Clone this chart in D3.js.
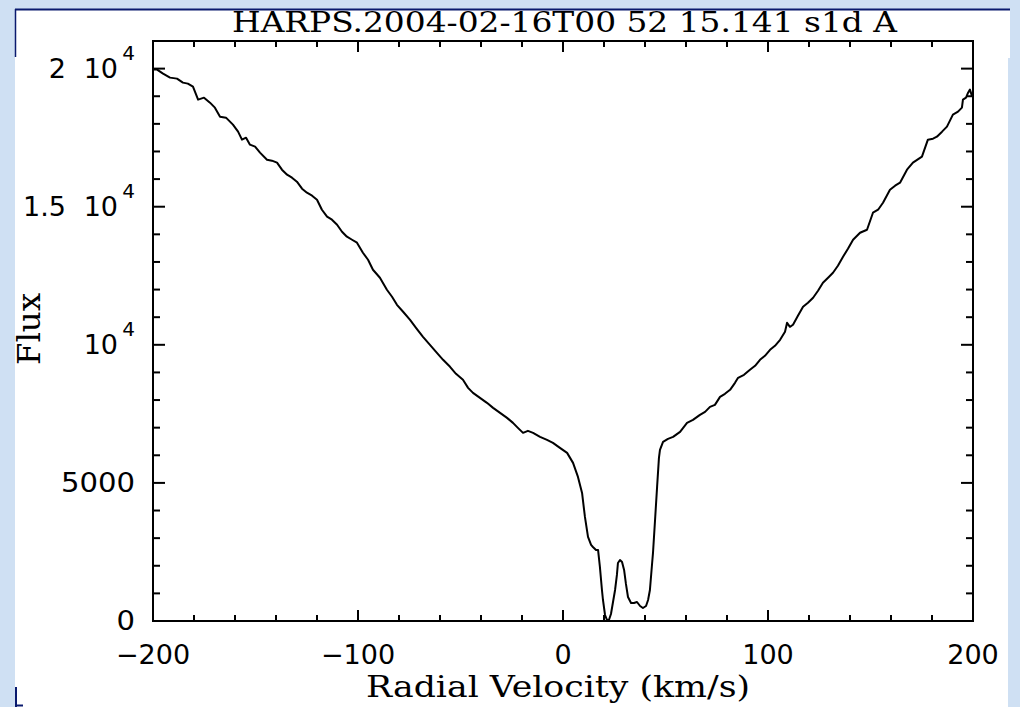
<!DOCTYPE html>
<html>
<head>
<meta charset="utf-8">
<script src="https://cdn.jsdelivr.net/npm/d3@7"></script>
<style>
  html, body { margin: 0; padding: 0; background: #cfe0f3; }
  svg { display: block; }
</style>
</head>
<body>
<svg id="chart" width="1020" height="707"></svg>
<script>
// ---- data ----
const velocity = [-200,-198.0,-195.1,-191.7,-188.3,-185.4,-183.0,-180.5,-178.0,-175.1,-172.2,-169.8,-167.3,-164.4,-161.0,-158.5,-156.6,-154.6,-152.7,-150.2,-147.8,-144.4,-142.0,-139.5,-137.1,-134.6,-132.2,-129.8,-127.3,-124.9,-122.4,-120.0,-117.6,-115.1,-112.7,-110.2,-107.8,-105.4,-102.9,-100.5,-97.6,-95.1,-92.7,-89.3,-85.9,-83.4,-81.0,-78.0,-74.6,-71.7,-68.3,-64.9,-61.5,-58.5,-55.1,-52.2,-48.8,-46.3,-43.9,-40.5,-37.1,-34.1,-30.7,-27.3,-24.4,-22.0,-19.5,-17.1,-14.6,-11.2,-7.8,-4.9,-1.5,2.0,4.9,7.3,8.3,9.3,10.7,12.2,13.7,14.6,16.1,17.1,18.0,19.0,19.5,20.5,21.5,22.4,23.4,24.4,25.4,26.3,26.8,27.8,28.8,29.8,30.7,31.7,33.2,34.6,36.1,37.6,39.0,40.5,41.5,42.4,43.4,43.9,44.9,45.9,46.8,47.3,48.8,51.2,53.7,57.1,60.5,63.4,66.8,69.3,71.7,74.1,76.6,79.0,81.5,83.9,85.4,88.3,91.2,93.7,96.1,98.5,101.0,103.4,105.9,108.3,109.3,110.7,112.2,114.6,117.1,119.5,122.0,124.4,126.8,129.3,131.7,134.1,136.6,139.0,141.5,144.9,148.3,151.2,153.7,156.1,159.5,162.0,164.4,167.8,170.7,175.1,178.0,180.5,182.4,184.9,187.3,190.2,192.7,194.6,195.1,196.6,197.6,198.5,199.6];
const flux = [19964,19964,19819,19674,19638,19493,19457,19348,18877,18949,18768,18587,18261,18225,17971,17717,17428,17500,17246,17174,16957,16703,16667,16594,16341,16159,16051,15906,15652,15507,15399,15254,14891,14638,14529,14348,14094,13913,13804,13696,13333,13080,12717,12428,11993,11739,11449,11196,10906,10616,10290,10000,9710,9457,9203,8949,8732,8442,8261,8080,7899,7717,7536,7355,7174,6993,6812,6884,6812,6667,6558,6449,6268,6087,5725,5217,4928,4638,3768,3043,2754,2681,2572,2572,1957,1123,761,217,36,36,254,688,1123,1667,2101,2210,2138,1848,1341,870,652,652,688,543,471,543,761,1123,2029,2464,3659,4855,5906,6196,6486,6594,6667,6848,7174,7283,7464,7572,7754,7826,8116,8225,8370,8623,8804,8913,9094,9239,9457,9601,9819,9964,10181,10471,10797,10652,10725,11051,11377,11522,11703,11957,12246,12428,12609,12862,13188,13478,13804,14058,14167,14783,14891,15145,15616,15761,15870,16341,16594,16812,17428,17464,17536,17717,17899,18333,18442,18587,18877,18949,19130,19239,18986];

const xMajorTicks = [-200, -100, 0, 100, 200];
const xTickLabels = ["\u2212200", "\u2212100", "0", "100", "200"];
const yMajorTicks = [0, 5000, 10000, 15000, 20000];
// [mantissa, power-of-ten base, exponent]
const yTickLabels = [["0", "", ""], ["5000", "", ""], ["", "10", "4"], ["1.5", "10", "4"], ["2", "10", "4"]];
const xDomain = [-200, 200];
const yDomain = [0, 21000];
const xMinorStep = 20;
const yMinorStep = 1000;

const titleText = "HARPS.2004-02-16T00 52 15.141 s1d A";
const xLabelText = "Radial Velocity (km/s)";
const yLabelText = "Flux";

// ---- layout ----
const svg = d3.select("#chart");
const L = 153, R = 973, T = 41, B = 621;

const x = d3.scaleLinear().domain(xDomain).range([L, R]);
const y = d3.scaleLinear().domain(yDomain).range([B, T]);

// background decoration: blue page with white panel
svg.append("rect").attr("x", 0).attr("y", 0).attr("width", 1020).attr("height", 707).attr("fill", "#cfe0f3");
svg.append("rect").attr("x", 15).attr("y", 9).attr("width", 995).attr("height", 49).attr("fill", "#ffffff");
svg.append("rect").attr("x", 15).attr("y", 57).attr("width", 993).attr("height", 650).attr("fill", "#ffffff");
svg.append("line").attr("x1", 15).attr("x2", 1010).attr("y1", 9.5).attr("y2", 9.5).attr("stroke", "#0a1a6e").attr("stroke-width", 2);
svg.append("line").attr("x1", 15.5).attr("x2", 15.5).attr("y1", 9).attr("y2", 57).attr("stroke", "#0a1a6e").attr("stroke-width", 1.5);
svg.append("line").attr("x1", 16).attr("x2", 16).attr("y1", 687).attr("y2", 707).attr("stroke", "#0a1a6e").attr("stroke-width", 2);
svg.append("line").attr("x1", 15).attr("x2", 23).attr("y1", 705.5).attr("y2", 705.5).attr("stroke", "#0a1a6e").attr("stroke-width", 2);

// ---- spectrum ----
const pts = velocity.map((v, i) => [v, flux[i]]);
const line = d3.line().x(d => x(d[0])).y(d => y(d[1])).curve(d3.curveLinear);
svg.append("path").datum(pts).attr("d", line)
  .attr("fill", "none").attr("stroke", "#000").attr("stroke-width", 2).attr("stroke-linejoin", "round");

// ---- frame ----
svg.append("rect").attr("x", L).attr("y", T).attr("width", R - L).attr("height", B - T)
  .attr("fill", "none").attr("stroke", "#000").attr("stroke-width", 2);

// ---- ticks (inward, all four sides) ----
const ticks = svg.append("g").attr("stroke", "#000").attr("stroke-width", 2);
const xMinor = d3.range(xDomain[0], xDomain[1] + 0.001, xMinorStep);
xMinor.forEach(v => {
  const major = xMajorTicks.includes(v);
  const len = major ? 11 : 6;
  ticks.append("line").attr("x1", x(v)).attr("x2", x(v)).attr("y1", B).attr("y2", B - len);
  ticks.append("line").attr("x1", x(v)).attr("x2", x(v)).attr("y1", T).attr("y2", T + len);
});
const yMinor = d3.range(yDomain[0], yDomain[1] + 0.001, yMinorStep);
yMinor.forEach(v => {
  const major = yMajorTicks.includes(v);
  const len = major ? 12 : 7;
  ticks.append("line").attr("x1", L).attr("x2", L + len).attr("y1", y(v)).attr("y2", y(v));
  ticks.append("line").attr("x1", R).attr("x2", R - len).attr("y1", y(v)).attr("y2", y(v));
});

// ---- tick labels ----
const sans = "DejaVu Sans, sans-serif";
xMajorTicks.forEach((v, i) => {
  svg.append("text").attr("x", x(v)).attr("y", 664)
    .attr("text-anchor", "middle").attr("font-family", sans).attr("font-size", 27)
    .attr("fill", "#000").text(xTickLabels[i]);
});
const labelRight = 135;
yMajorTicks.forEach((v, i) => {
  const [mant, base, expo] = yTickLabels[i];
  const yy = y(v) + 9;
  if (!base) {
    svg.append("text").attr("x", labelRight).attr("y", yy)
      .attr("text-anchor", "end").attr("font-family", sans).attr("font-size", 27).attr("fill", "#000")
      .attr("textLength", mant.length * 18.5).attr("lengthAdjust", "spacingAndGlyphs").text(mant);
  } else {
    svg.append("text").attr("x", labelRight - 17).attr("y", yy)
      .attr("text-anchor", "end").attr("font-family", sans).attr("font-size", 27).attr("fill", "#000")
      .text(base);
    svg.append("text").attr("x", labelRight).attr("y", yy - 18)
      .attr("text-anchor", "end").attr("font-family", sans).attr("font-size", 20).attr("fill", "#000")
      .text(expo);
    if (mant) {
      svg.append("text").attr("x", 66).attr("y", yy)
        .attr("text-anchor", "end").attr("font-family", sans).attr("font-size", 27).attr("fill", "#000")
        .text(mant);
    }
  }
});

// ---- titles ----
const serif = "DejaVu Serif, serif";
svg.append("text").attr("x", 232).attr("y", 32)
  .attr("font-family", serif).attr("font-size", 27).attr("fill", "#000")
  .attr("textLength", 665).attr("lengthAdjust", "spacingAndGlyphs").text(titleText);
svg.append("text").attr("x", 366).attr("y", 697)
  .attr("font-family", serif).attr("font-size", 29).attr("fill", "#000")
  .attr("textLength", 384).attr("lengthAdjust", "spacingAndGlyphs").text(xLabelText);
svg.append("text").attr("transform", "translate(40,329) rotate(-90)")
  .attr("text-anchor", "middle")
  .attr("font-family", serif).attr("font-size", 31).attr("fill", "#000")
  .attr("textLength", 72).attr("lengthAdjust", "spacingAndGlyphs").text(yLabelText);
</script>
</body>
</html>
